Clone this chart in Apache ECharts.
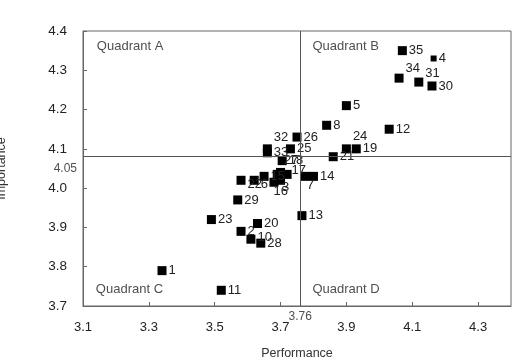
<!DOCTYPE html>
<html>
<head>
<meta charset="utf-8">
<script src="https://cdn.jsdelivr.net/npm/echarts@6/dist/echarts.min.js"></script>
<style>
  html, body { margin: 0; padding: 0; background: #fff; }
  #main { width: 519px; height: 361px; }
</style>
</head>
<body>
<div id="main"></div>
<script>
// 数据
var ids = [1, 2, 3, 4, 5, 6, 7, 8, 9, 10, 11, 12, 13, 14, 15, 16, 17, 18, 19, 20,
           21, 22, 23, 24, 25, 26, 27, 28, 29, 30, 31, 32, 33, 34, 35];
var performance = [3.34, 3.58, 3.70, 4.165, 3.90, 3.62, 3.775, 3.84, 3.69, 3.61,
                   3.52, 4.03, 3.765, 3.80, 3.65, 3.68, 3.72, 3.705, 3.93, 3.63,
                   3.86, 3.58, 3.49, 3.90, 3.73, 3.75, 3.70, 3.64, 3.57, 4.16,
                   4.12, 3.66, 3.66, 4.06, 4.07];
var importance = [3.79, 3.89, 4.02, 4.33, 4.21, 4.02, 4.03, 4.16, 4.035, 3.87,
                  3.74, 4.15, 3.93, 4.03, 4.03, 4.015, 4.035, 4.07, 4.10, 3.91,
                  4.08, 4.02, 3.92, 4.10, 4.10, 4.13, 4.04, 3.86, 3.97, 4.26,
                  4.27, 4.10, 4.09, 4.28, 4.35];
var xTicks = [3.1, 3.3, 3.5, 3.7, 3.9, 4.1, 4.3];
var yTicks = [3.7, 3.8, 3.9, 4.0, 4.1, 4.2, 4.3, 4.4];
var perfCut = 3.76;
var impCut = 4.08;
var impCutText = '4.05';
var quadrantNames = ['Quadrant A', 'Quadrant B', 'Quadrant C', 'Quadrant D'];
var quadrantPos = [[3.142, 4.36], [3.797, 4.36], [3.139, 3.741], [3.797, 3.741]];

// 标签偏移（只是样式）
var labelOffset = {
    3: [-5, 7], 6: [0, 4], 7: [-5, 9], 10: [0, -2], 16: [-7, 9], 17: [-2, -4],
    22: [0, 4], 24: [0, -12], 27: [-3, -12], 31: [0, -9], 32: [0, -11], 34: [0, -10]
};
var hiddenLabel = { 9: true };

var font = 'Liberation Sans, Arial, sans-serif';
var pts = [];
for (var i = 0; i < ids.length; i++) {
    var p = {
        name: String(ids[i]),
        value: [performance[i], importance[i]],
        label: { offset: labelOffset[ids[i]] || [0, 0], show: !hiddenLabel[ids[i]] }
    };
    if (ids[i] === 4) p.symbolSize = 6;
    pts.push(p);
}
var qPts = [];
for (var k = 0; k < quadrantNames.length; k++) {
    qPts.push({ name: quadrantNames[k], value: quadrantPos[k] });
}

var myChart = echarts.init(document.getElementById('main'));
var option = {
    animation: false,
    textStyle: { fontFamily: font },
    grid: {
        left: 83, right: 8, top: 31, bottom: 55,
        containLabel: false, outerBoundsMode: 'none',
        show: true, borderColor: '#666', borderWidth: 1, backgroundColor: 'transparent'
    },
    xAxis: {
        type: 'value', min: 3.1, max: 4.4,
        name: 'Performance', nameLocation: 'middle', nameGap: 41,
        nameTextStyle: { color: '#333', fontSize: 12.5, fontFamily: font },
        axisLine: { show: true, lineStyle: { color: '#666', width: 1 } },
        axisTick: { show: true, inside: true, length: 4, customValues: xTicks, lineStyle: { color: '#666' } },
        axisLabel: {
            customValues: xTicks, margin: 15, color: '#222', fontSize: 13, fontFamily: font,
            formatter: function (v) { return v.toFixed(1); }
        },
        splitLine: { show: false }
    },
    yAxis: {
        type: 'value', min: 3.7, max: 4.4,
        name: 'Importance', nameLocation: 'middle', nameGap: 75,
        nameTextStyle: { color: '#333', fontSize: 12.5, fontFamily: font },
        axisLine: { show: true, lineStyle: { color: '#666', width: 1 } },
        axisTick: { show: true, inside: true, length: 4, customValues: yTicks, lineStyle: { color: '#666' } },
        axisLabel: {
            customValues: yTicks, margin: 16, color: '#222', fontSize: 13.5, fontFamily: font,
            formatter: function (v) { return v.toFixed(1); }
        },
        splitLine: { show: false }
    },
    series: [
        {
            type: 'scatter',
            symbol: 'rect',
            symbolSize: 9,
            itemStyle: { color: '#000', opacity: 1 },
            data: pts,
            label: {
                show: true, position: 'right', distance: 2,
                formatter: '{b}', color: '#222', fontSize: 13, fontFamily: font
            },
            markLine: {
                silent: true, symbol: 'none', animation: false,
                label: { show: false },
                lineStyle: { color: '#555', width: 1, type: 'solid' },
                data: [{ xAxis: perfCut }, { yAxis: impCut }]
            },
            z: 3
        },
        {
            // 象限文字
            type: 'scatter', symbolSize: 0, silent: true,
            data: qPts,
            label: {
                show: true, position: 'right', distance: 0,
                formatter: '{b}', color: '#222', fontSize: 13, fontFamily: font
            }
        },
        {
            // 分界值文字
            type: 'scatter', symbolSize: 0, silent: true, clip: false,
            data: [
                { name: impCutText, value: [3.1, 4.05], label: { position: 'left', distance: 6 } },
                { name: perfCut.toFixed(2), value: [perfCut, 3.7], label: { position: 'bottom', distance: 5 } }
            ],
            label: {
                show: true, formatter: '{b}', color: '#222', fontSize: 12, fontFamily: font
            }
        }
    ]
};
option && myChart.setOption(option);
</script>
</body>
</html>
